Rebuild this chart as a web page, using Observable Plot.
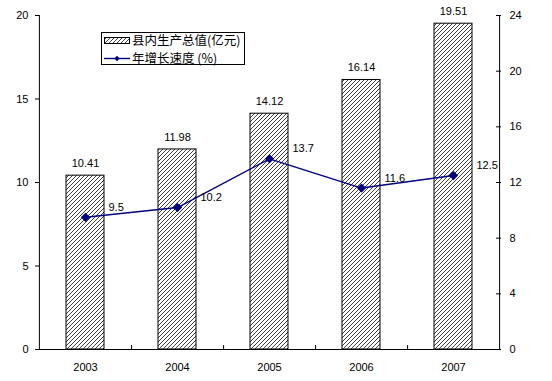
<!DOCTYPE html>
<html>
<head>
<meta charset="utf-8">
<script src="https://cdn.jsdelivr.net/npm/d3@7"></script>
<script src="https://cdn.jsdelivr.net/npm/@observablehq/plot@0.6"></script>
<style>
  html, body { margin: 0; padding: 0; background: #fff; }
  #chart { position: relative; width: 552px; height: 381px; }
</style>
</head>
<body>
<div id="chart"></div>
<script>
const years = ["2003", "2004", "2005", "2006", "2007"];
const gdp = [10.41, 11.98, 14.12, 16.14, 19.51];
const growth = [9.5, 10.2, 13.7, 11.6, 12.5];
const leftTicks = [0, 5, 10, 15, 20];
const rightTicks = [0, 4, 8, 12, 16, 20, 24];
const legendLabels = ["县内生产总值(亿元)", "年增长速度 (%)"];

const data = years.map((y, i) => ({year: y, gdp: gdp[i], rate: growth[i]}));
const R = 20 / 24; // right-axis to left-axis conversion

const W = 552, H = 381, mL = 39, mR = 52, mT = 15, mB = 32;
const half = (W - mL - mR) / years.length / 2;
const numFont = "'Liberation Sans', Arial, sans-serif";

const plot = Plot.plot({
  width: W, height: H,
  marginLeft: mL, marginRight: mR, marginTop: mT, marginBottom: mB,
  style: {fontFamily: numFont, fontSize: "11px", color: "#000", background: "#fff"},
  x: {domain: years, paddingInner: 0.585, paddingOuter: 0.2925, label: null},
  y: {domain: [0, 20], label: null},
  marks: [
    Plot.barY(data, {x: "year", y: "gdp", fill: "url(#hatch)", stroke: "#000", strokeWidth: 1}),
    Plot.text(data, {x: "year", y: "gdp", text: d => d.gdp.toFixed(2), dy: -12, fontSize: 11}),
    Plot.ruleY([0], {stroke: "#000"}),
    Plot.ruleX([years[0]], {dx: -half, y1: 0, y2: 20, stroke: "#000"}),
    Plot.ruleX([years[years.length - 1]], {dx: half, y1: 0, y2: 20, stroke: "#000"}),
    Plot.ruleX(years.slice(0, -1), {dx: half, y1: 0, y2: 0.24, stroke: "#000"}),
    Plot.axisX({tickSize: 0, tickPadding: 14, fontSize: 11}),
    Plot.axisY({anchor: "left", ticks: leftTicks, tickSize: 4, tickPadding: 7, fontSize: 11}),
    Plot.axisY({anchor: "right", ticks: rightTicks.map(v => v * R), tickFormat: v => String(Math.round(v / R)),
      tickSize: 5, dx: -5, tickPadding: 9, fontSize: 11}),
    Plot.line(data, {x: "year", y: d => d.rate * R, stroke: "#000080", strokeWidth: 1.4}),
    Plot.dot(data, {x: "year", y: d => d.rate * R, symbol: "diamond2", r: 3.2, fill: "#000080", stroke: "#000080"}),
    Plot.text(data, {x: "year", y: d => d.rate * R, text: d => String(d.rate), textAnchor: "start", dx: 23, dy: -10, fontSize: 11})
  ]
});

// hatch pattern definition
const svg = d3.select(plot);
const defs = svg.insert("defs", ":first-child");
const pat = defs.append("pattern").attr("id", "hatch").attr("patternUnits", "userSpaceOnUse")
  .attr("width", 4).attr("height", 4);
pat.append("rect").attr("width", 4).attr("height", 4).attr("fill", "#fff");
pat.append("path").attr("d", "M-1,1 l2,-2 M0,4 l4,-4 M3,5 l2,-2")
  .attr("stroke", "#000").attr("stroke-width", 0.75);

// legend
const lg = svg.append("g").attr("class", "legend").attr("text-anchor", "start");
lg.append("rect").attr("x", 101.5).attr("y", 32.5).attr("width", 143).attr("height", 32)
  .attr("fill", "#fff").attr("stroke", "#000");
lg.append("rect").attr("x", 104.5).attr("y", 37.5).attr("width", 25).attr("height", 6)
  .attr("fill", "url(#hatch)").attr("stroke", "#000");
lg.append("line").attr("x1", 104).attr("x2", 130).attr("y1", 58.5).attr("y2", 58.5)
  .attr("stroke", "#000080").attr("stroke-width", 1.4);
lg.append("path").attr("d", d3.symbol(d3.symbolDiamond2, 20)()).attr("transform", "translate(117,58.5)")
  .attr("fill", "#000080");
lg.selectAll("text.lab").data(legendLabels).join("text").attr("class", "lab")
  .attr("x", 132).attr("y", (d, i) => i === 0 ? 41 : 58.5).attr("dy", "0.35em")
  .attr("text-anchor", "start")
  .attr("font-family", "'Noto Sans CJK SC', sans-serif").attr("font-size", 12.5)
  .text(d => d);

document.getElementById("chart").appendChild(plot);
</script>
</body>
</html>
